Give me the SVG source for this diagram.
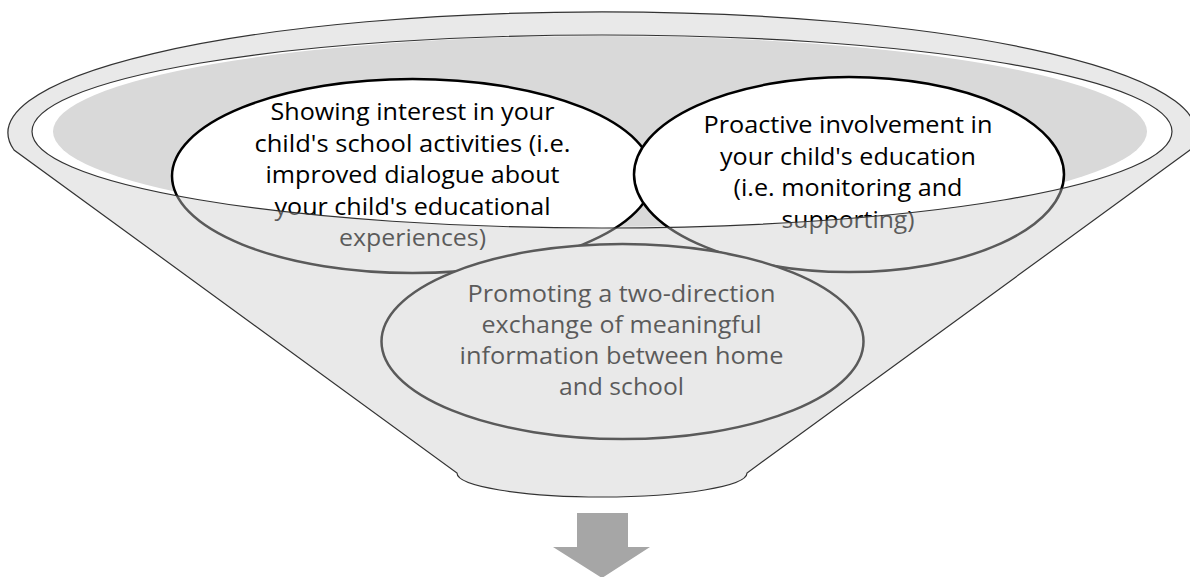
<svg xmlns="http://www.w3.org/2000/svg" width="1190" height="577" viewBox="0 0 1190 577">
<style>
.t{font-family:"Open Sans","Noto Sans","Liberation Sans",sans-serif;font-size:24px;fill:#000;text-anchor:middle}
.node{fill:#fff;stroke:#000;stroke-width:2.5}
.outline{fill:none;stroke:#333;stroke-width:1.2}
</style>
<defs>
<path id="bodyShape" d="M14,150 A594,121 0 1 1 1190,150 L747,473 A145,24 0 0 1 457,473 Z"/>
</defs>
<g id="funnel-back">
<use href="#bodyShape" fill="#fff"/>
<ellipse cx="602" cy="131.5" rx="570" ry="96.5" fill="#fff"/>
<ellipse cx="600" cy="131.5" rx="547" ry="95.5" fill="#d9d9d9"/>
</g>
<g id="node-interest">
<ellipse class="node" cx="412.5" cy="176" rx="240.5" ry="97"/>
<text class="t" x="412.5" y="120" textLength="284" lengthAdjust="spacingAndGlyphs">Showing interest in your</text>
<text class="t" x="412.5" y="151.5" textLength="316" lengthAdjust="spacingAndGlyphs">child's school activities (i.e.</text>
<text class="t" x="412.5" y="183" textLength="294" lengthAdjust="spacingAndGlyphs">improved dialogue about</text>
<text class="t" x="412.5" y="214.5" textLength="276" lengthAdjust="spacingAndGlyphs">your child's educational</text>
<text class="t" x="412.5" y="246" textLength="147" lengthAdjust="spacingAndGlyphs">experiences)</text>
</g>
<g id="node-involvement">
<ellipse class="node" cx="849" cy="174.5" rx="215" ry="97.5"/>
<text class="t" x="848" y="133" textLength="289" lengthAdjust="spacingAndGlyphs">Proactive involvement in</text>
<text class="t" x="848" y="164.5" textLength="256" lengthAdjust="spacingAndGlyphs">your child's education</text>
<text class="t" x="848" y="196" textLength="229" lengthAdjust="spacingAndGlyphs">(i.e. monitoring and</text>
<text class="t" x="848" y="227.5" textLength="133" lengthAdjust="spacingAndGlyphs">supporting)</text>
</g>
<g id="node-exchange">
<ellipse class="node" cx="622.5" cy="341.5" rx="241" ry="97.5"/>
<text class="t" x="621.5" y="301.5" textLength="308" lengthAdjust="spacingAndGlyphs">Promoting a two-direction</text>
<text class="t" x="621.5" y="332.5" textLength="280" lengthAdjust="spacingAndGlyphs">exchange of meaningful</text>
<text class="t" x="621.5" y="363.5" textLength="324" lengthAdjust="spacingAndGlyphs">information between home</text>
<text class="t" x="621.5" y="394.5" textLength="125" lengthAdjust="spacingAndGlyphs">and school</text>
</g>
<g id="funnel-front">
<path d="M14,150 A594,121 0 1 1 1190,150 L747,473 A145,24 0 0 1 457,473 Z M32,131.5 A570,96.5 0 1 0 1172,131.5 A570,96.5 0 1 0 32,131.5 Z" fill="#cdcdcd" fill-opacity="0.44" fill-rule="evenodd"/>
<use href="#bodyShape" class="outline"/>
<ellipse class="outline" cx="602" cy="131.5" rx="570" ry="96.5"/>
</g>
<g id="arrow">
<path d="M577,513 H628 V547 H650 L602,578 L553,547 H577 Z" fill="#a6a6a6"/>
</g>
</svg>
